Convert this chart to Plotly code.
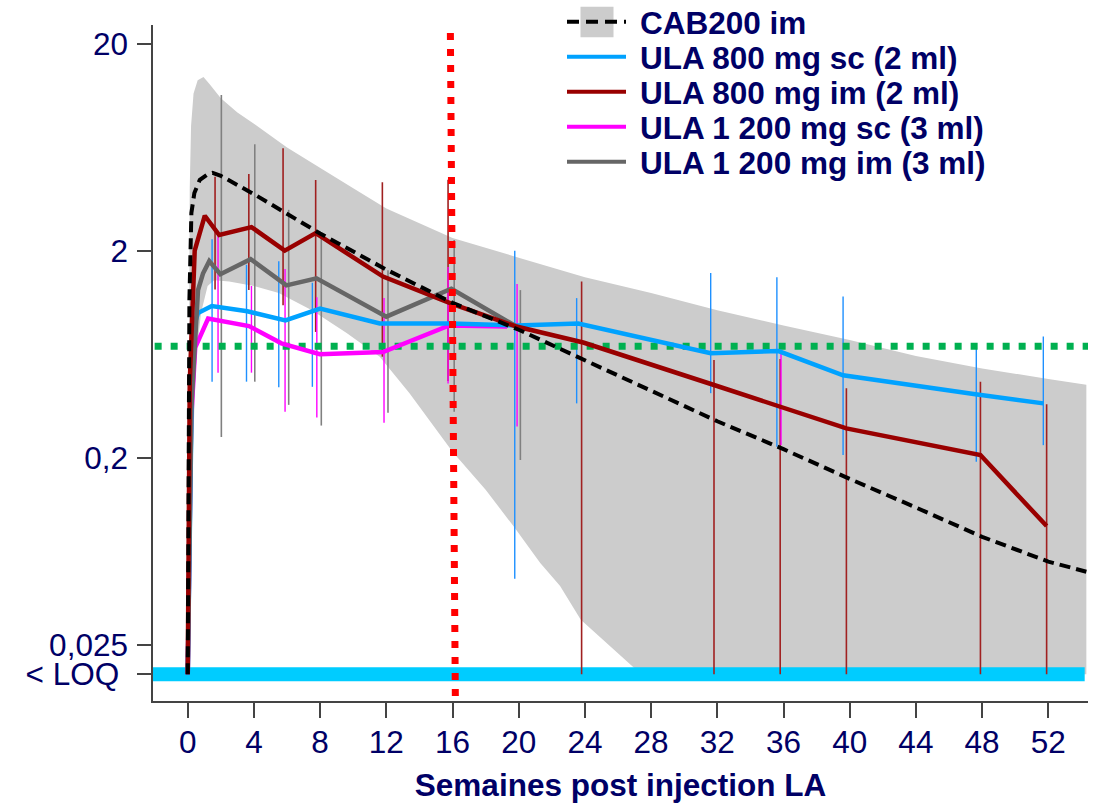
import plotly.graph_objects as go

# ---------------- data ----------------
LOQ = 0.018
THRESH = 0.69

X_TICKS = list(range(0, 53, 4))
Y_TICKVALS = [0.018, 0.025, 0.2, 2, 20]
Y_TICKTEXT = ["< LOQ\u00a0", "0,025", "0,2", "2", "20"]

# CAB200 im : model median and 90% band
cab_x = [0, 0.05, 0.1, 0.22, 0.4, 0.73, 1.2, 1.5, 2, 4, 8, 12, 16, 20, 24, 28, 32, 36, 40, 44, 48, 52, 54.3]
cab_y = [0.018, 0.2, 1.16, 3.04, 3.8, 4.4, 4.68, 4.75, 4.6, 3.75, 2.42, 1.62, 1.12, 0.83, 0.59, 0.42, 0.30, 0.22, 0.158, 0.115, 0.083, 0.063, 0.0563]

band_up_x = [0, 0.04, 0.08, 0.12, 0.2, 0.35, 0.6, 0.95, 1.3, 2, 3, 4, 6, 8, 10, 12, 16, 20, 24, 28, 32, 36, 40, 44, 48, 52, 54.3]
band_up_y = [0.018, 0.2, 1.2, 4, 8, 11.5, 13.3, 13.8, 12.8, 10.9, 9.3, 8.2, 6.3, 5.0, 4.0, 3.2, 2.3, 1.85, 1.49, 1.25, 1.03, 0.87, 0.74, 0.62, 0.54, 0.48, 0.45]
band_lo_x = [0, 0.15, 0.3, 0.5, 0.8, 1.2, 1.6, 2.5, 4, 5.5, 7.5, 9.6, 11.6, 13.4, 16, 18, 19.7, 21.3, 22.5, 23.75, 27.4, 54.3]
band_lo_y = [0.018, 0.05, 0.2, 0.6, 1.0, 1.35, 1.44, 1.42, 1.35, 1.25, 1.03, 0.80, 0.615, 0.41, 0.214, 0.14, 0.093, 0.062, 0.048, 0.033, 0.018, 0.018]

# ULA 800 mg sc (2 ml)
sc800_x = [0, 0.3, 0.62, 1.45, 3.6, 5.9, 8.0, 11.6, 15.9, 19.9, 23.6, 31.6, 35.7, 39.6, 47.6, 51.7]
sc800_y = [0.018, 0.83, 1.0, 1.08, 1.02, 0.92, 1.05, 0.89, 0.89, 0.87, 0.89, 0.64, 0.655, 0.50, 0.405, 0.366]
sc800_bar_x = [1.47, 3.55, 5.5, 7.53, 19.76, 23.5, 31.6, 35.6, 39.6, 47.65, 51.7]
sc800_bar_hi = [2.27, 1.71, 1.78, 1.40, 2.0, 1.18, 1.56, 1.49, 1.20, 0.70, 0.77]
sc800_bar_lo = [0.466, 0.466, 0.438, 0.44, 0.052, 0.366, 0.41, 0.226, 0.206, 0.191, 0.23]

# ULA 800 mg im (2 ml)
im800_x = [0, 0.12, 0.42, 1.03, 1.9, 3.85, 5.86, 7.73, 11.8, 15.93, 19.86, 23.9, 31.8, 35.8, 39.8, 47.9, 51.9]
im800_y = [0.018, 0.46, 2.0, 2.95, 2.38, 2.6, 2.0, 2.43, 1.5, 1.11, 0.86, 0.72, 0.449, 0.352, 0.277, 0.206, 0.0935]
im800_bar_x = [1.65, 3.69, 5.76, 7.73, 11.76, 15.73, 23.8, 31.8, 35.8, 39.8, 47.9, 51.9]
im800_bar_hi = [4.55, 4.69, 6.25, 4.39, 4.28, 4.4, 1.42, 0.593, 0.60, 0.433, 0.466, 0.362]
im800_bar_lo = [1.3, 1.29, 1.09, 0.81, 0.615, 0.47, 0.018, 0.018, 0.018, 0.018, 0.018, 0.018]

# ULA 1 200 mg sc (3 ml)
sc1200_x = [0, 0.2, 0.45, 1.23, 3.7, 5.66, 7.98, 11.8, 15.8, 19.3]
sc1200_y = [0.018, 0.3, 0.68, 0.94, 0.865, 0.714, 0.632, 0.648, 0.87, 0.86]
sc1200_bar_x = [1.83, 3.85, 5.88, 7.8, 11.86, 15.73, 19.9, 35.85]
sc1200_bar_hi = [2.34, 1.35, 1.63, 1.19, 1.18, 1.67, 1.38, 0.66]
sc1200_bar_lo = [0.515, 0.515, 0.333, 0.313, 0.295, 0.457, 0.283, 0.23]

# ULA 1 200 mg im (3 ml)
im1200_x = [0, 0.22, 0.62, 0.92, 1.3, 1.97, 3.8, 5.96, 7.78, 12.0, 15.93, 19.86]
im1200_y = [0.018, 0.35, 1.29, 1.55, 1.78, 1.54, 1.82, 1.36, 1.47, 0.96, 1.31, 0.86]
im1200_bar_x = [2.03, 4.05, 6.1, 8.07, 12.1, 16.1, 20.1]
im1200_bar_hi = [11.3, 6.53, 3.15, 2.41, 1.61, 2.25, 1.29]
im1200_bar_lo = [0.252, 0.466, 0.36, 0.286, 0.33, 0.333, 0.195]

INJ_X = [15.87, 16.17]
INJ_Y = [22.5, 0.014]

LEGEND_LABELS = ["CAB200 im", "ULA 800 mg sc (2 ml)", "ULA 800 mg im (2 ml)",
                 "ULA 1 200 mg sc (3 ml)", "ULA 1 200 mg im (3 ml)"]

# ---------------- style ----------------
FONT = "Liberation Sans, Arial, sans-serif"
NAVY = "#000066"
C_BLUE, C_RED, C_MAG, C_GRAY = "#00A2FF", "#990000", "#FF00FF", "#666666"
BAR_BLUE, BAR_RED, BAR_MAG, BAR_GRAY = "#1E90FF", "#A02020", "#FF00FF", "#808080"
XR = [-2.1, 54.4]

def bars(xv, lo, hi):
    xs, ys = [], []
    for a, b, c in zip(xv, lo, hi):
        xs += [a, a, None]
        ys += [b, c, None]
    return xs, ys

fig = go.Figure()

# band
fig.add_trace(go.Scatter(x=band_up_x + band_lo_x[::-1], y=band_up_y + band_lo_y[::-1],
                         fill="toself", fillcolor="#CCCCCC", line=dict(width=0),
                         mode="lines", showlegend=False, hoverinfo="skip"))
# LOQ band
fig.add_trace(go.Scatter(x=[XR[0], 54.2], y=[LOQ, LOQ], mode="lines",
                         line=dict(color="#00CCFF", width=14), showlegend=False))
# error bars
for (bx, blo, bhi, col, w) in [
        (im1200_bar_x, im1200_bar_lo, im1200_bar_hi, BAR_GRAY, 1.6),
        (sc800_bar_x, sc800_bar_lo, sc800_bar_hi, BAR_BLUE, 1.4),
        (im800_bar_x, im800_bar_lo, im800_bar_hi, BAR_RED, 1.6),
        (sc1200_bar_x, sc1200_bar_lo, sc1200_bar_hi, BAR_MAG, 1.4)]:
    xs, ys = bars(bx, blo, bhi)
    fig.add_trace(go.Scatter(x=xs, y=ys, mode="lines", line=dict(color=col, width=w),
                             showlegend=False, connectgaps=False))
# threshold
fig.add_trace(go.Scatter(x=[-2.0, XR[1]], y=[THRESH, THRESH], mode="lines",
                         line=dict(color="#00B050", width=7, dash="7px,9px"), showlegend=False))
# series lines
for (sx, sy, col) in [(sc1200_x, sc1200_y, C_MAG), (sc800_x, sc800_y, C_BLUE),
                      (im1200_x, im1200_y, C_GRAY), (im800_x, im800_y, C_RED)]:
    fig.add_trace(go.Scatter(x=sx, y=sy, mode="lines", line=dict(color=col, width=4.5),
                             showlegend=False))
fig.add_trace(go.Scatter(x=cab_x, y=cab_y, mode="lines",
                         line=dict(color="black", width=4, dash="11px,6px"), showlegend=False))
# injection line
fig.add_trace(go.Scatter(x=INJ_X, y=INJ_Y, mode="lines",
                         line=dict(color="#FF0000", width=7, dash="7px,9px"), showlegend=False))

# ---------------- manual legend ----------------
L, R, T, B = 153, 1088, 25, 701
def px(xp): return (xp - L) / (R - L)
def py(yp): return (B - yp) / (B - T)

shapes = [dict(type="rect", xref="paper", yref="paper", x0=px(580.5), x1=px(613.5),
               y0=py(37.3), y1=py(6.7), fillcolor="#CCCCCC", line=dict(width=0))]
leg_cols = ["black", C_BLUE, C_RED, C_MAG, C_GRAY]
leg_y = [21.7, 56.7, 91.7, 126.7, 161.7]
for i, (c, yy) in enumerate(zip(leg_cols, leg_y)):
    shapes.append(dict(type="line", xref="paper", yref="paper", x0=px(567), x1=px(626),
                       y0=py(yy), y1=py(yy),
                       line=dict(color=c, width=4, dash="12px,7px" if i == 0 else "solid")))
annotations = []
for lab, yy in zip(LEGEND_LABELS, leg_y):
    annotations.append(dict(xref="paper", yref="paper", x=px(638), y=py(yy + 1),
                            xanchor="left", yanchor="middle", showarrow=False,
                            text="<b>" + lab + "</b>",
                            font=dict(family=FONT, size=31.5, color=NAVY)))

fig.update_layout(
    template="none",
    width=1102, height=803, autosize=False,
    margin=dict(l=L, r=1102 - R, t=T, b=803 - B, pad=0),
    plot_bgcolor="white", paper_bgcolor="white",
    showlegend=False, shapes=shapes, annotations=annotations,
    font=dict(family=FONT, color=NAVY),
)
fig.update_xaxes(range=XR, tickvals=X_TICKS, ticktext=[str(v) for v in X_TICKS],
                 automargin=False,
                 ticks="outside", ticklen=15, tickwidth=1.5, tickcolor="#444",
                 showline=True, linecolor="#444", linewidth=1.5,
                 showgrid=False, zeroline=False, ticklabelstandoff=-3,
                 tickfont=dict(family=FONT, size=31.5, color=NAVY),
                 title=dict(text="<b>Semaines post injection LA</b>",
                            font=dict(family=FONT, size=31.5, color=NAVY), standoff=21))
fig.update_yaxes(type="log", range=[-1.874, 1.391], tickvals=Y_TICKVALS, ticktext=Y_TICKTEXT,
                 automargin=False,
                 ticks="outside", ticklen=14, tickwidth=1.5, tickcolor="#444",
                 showline=True, linecolor="#444", linewidth=1.5,
                 showgrid=False, zeroline=False, ticklabelstandoff=3,
                 tickfont=dict(family=FONT, size=31.5, color=NAVY))

fig.write_html("out.html")
